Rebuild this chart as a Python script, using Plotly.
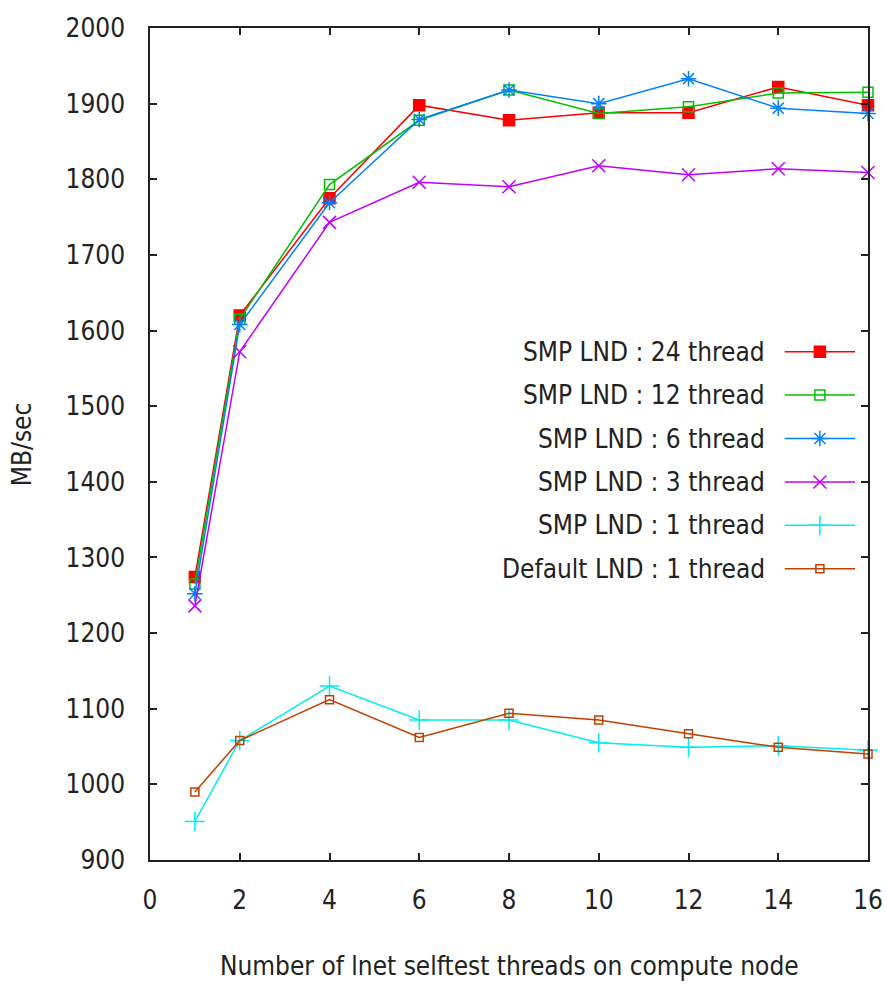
import plotly.graph_objects as go

x_threads = [1, 2, 4, 6, 8, 10, 12, 14, 16]

smp24 = [1274, 1620, 1775, 1898, 1878, 1888, 1888, 1922, 1898]
smp12 = [1265, 1615, 1793, 1878, 1918, 1887, 1896, 1914, 1915]
smp6 = [1252, 1608, 1769, 1879, 1918, 1900, 1933, 1894, 1887]
smp3 = [1236, 1572, 1743, 1796, 1790, 1818, 1806, 1814, 1809]
smp1 = [951, 1058, 1130, 1085, 1085, 1055, 1049, 1051, 1045]
default1 = [990, 1058, 1112, 1062, 1094, 1085, 1067, 1049, 1040]

series_names = [
    "SMP LND : 24 thread",
    "SMP LND : 12 thread",
    "SMP LND : 6 thread",
    "SMP LND : 3 thread",
    "SMP LND : 1 thread",
    "Default LND : 1 thread",
]
series_values = [smp24, smp12, smp6, smp3, smp1, default1]
colors = ["#FF0000", "#00C000", "#0080FF", "#C000FF", "#00EEEE", "#C04000"]
symbols = ["square", "square-open", "asterisk-open", "x-thin-open", "cross-thin-open", "square-open"]
sizes = [11, 10, 13, 13, 14, 8]

x_ticks = [0, 2, 4, 6, 8, 10, 12, 14, 16]
y_ticks = [900, 1000, 1100, 1200, 1300, 1400, 1500, 1600, 1700, 1800, 1900, 2000]

FONT = "DejaVu Sans Condensed, Liberation Sans Narrow, DejaVu Sans, sans-serif"

fig = go.Figure()
for name, vals, col, sym, sz in zip(series_names, series_values, colors, symbols, sizes):
    fig.add_trace(go.Scatter(
        x=x_threads, y=vals, mode="lines+markers", name=name,
        line=dict(color=col, width=1.5),
        marker=dict(symbol=sym, size=sz, color=col, line=dict(color=col, width=1.5)),
        showlegend=False, cliponaxis=False,
    ))

# custom legend (text right, sample on right like gnuplot)
leg_top = 0.611
leg_step = 0.0522
annotations = []
for i, (name, col, sym, sz) in enumerate(zip(series_names, colors, symbols, sizes)):
    yy = leg_top - i * leg_step
    annotations.append(dict(
        x=0.859, y=yy, xref="paper", yref="paper", text=name, showarrow=False,
        xanchor="right", yanchor="middle", font=dict(family=FONT, size=26, color="#222")))
    fig.add_trace(go.Scatter(
        x=[0.884, 0.982], y=[yy, yy], xaxis="x2", yaxis="y2", mode="lines",
        line=dict(color=col, width=1.5), showlegend=False, hoverinfo="skip"))
    fig.add_trace(go.Scatter(
        x=[0.933], y=[yy], xaxis="x2", yaxis="y2", mode="markers",
        marker=dict(symbol=sym, size=sz, color=col, line=dict(color=col, width=1.5)),
        showlegend=False, hoverinfo="skip"))

annotations.append(dict(
    x=0.5, y=-0.127, xref="paper", yref="paper", text="Number of lnet selftest threads on compute node",
    showarrow=False, xanchor="center", yanchor="middle", font=dict(family=FONT, size=26, color="#222")))
annotations.append(dict(
    x=-0.178, y=0.5, xref="paper", yref="paper", text="MB/sec", textangle=-90,
    showarrow=False, xanchor="center", yanchor="middle", font=dict(family=FONT, size=26, color="#222")))

axis_common = dict(
    showgrid=False, zeroline=False, showline=True, linecolor="#222", linewidth=1.5,
    ticks="inside", ticklen=7, tickwidth=1.5, tickcolor="#222", mirror="ticks",
    tickfont=dict(family=FONT, size=26, color="#222"), automargin=False,
)

fig.update_layout(
    width=887, height=984,
    margin=dict(l=150, r=19, t=28, b=124, autoexpand=False),
    paper_bgcolor="white", plot_bgcolor="white",
    xaxis=dict(range=[0, 16], tickvals=x_ticks, ticktext=[str(v) for v in x_ticks],
               ticklabelstandoff=16, **axis_common),
    yaxis=dict(range=[900, 2000], tickvals=y_ticks, ticktext=[str(v) for v in y_ticks],
               ticklabelstandoff=18, **axis_common),
    xaxis2=dict(range=[0, 1], overlaying="x", visible=False, fixedrange=True),
    yaxis2=dict(range=[0, 1], overlaying="y", visible=False, fixedrange=True),
    annotations=annotations,
    showlegend=False,
)

fig.write_html("out.html")
